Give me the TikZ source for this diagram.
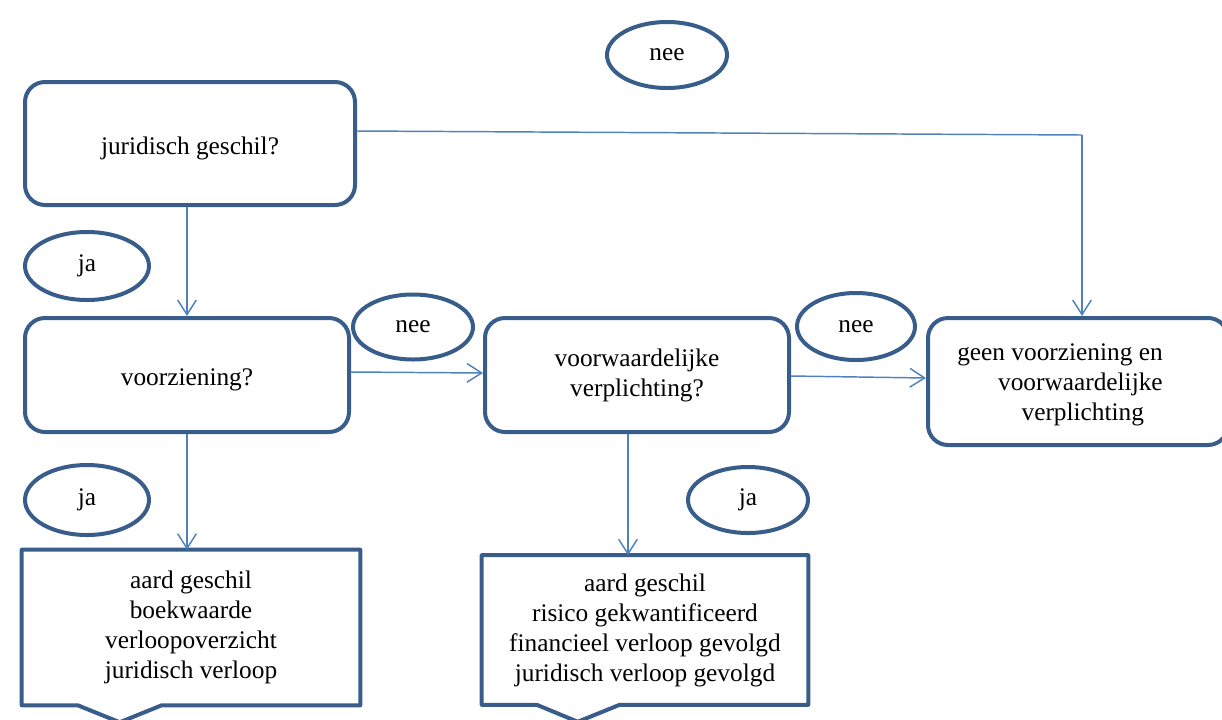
\documentclass[tikz,border=0pt]{standalone}
\usepackage{fontspec}
\setmainfont{Liberation Serif}
\usetikzlibrary{shapes.geometric,arrows.meta,calc}
\definecolor{boxblue}{HTML}{385D8A}
\definecolor{linkblue}{HTML}{4F81BD}
\tikzset{
  box/.style={draw=boxblue,line width=3pt,rounded corners=15pt,align=center,inner sep=0pt},
  callbox/.style={inner sep=0pt,align=center},
  callline/.style={draw=boxblue,line width=3pt,line join=round},
  oval/.style={draw=boxblue,line width=3pt,ellipse,inner sep=0pt},
  link/.style={draw=linkblue,line width=1.1pt,-{Straight Barb[length=11pt,width=14pt,line width=1.1pt]}},
  plain/.style={draw=linkblue,line width=1.1pt}
}
\begin{document}
\begin{tikzpicture}[x=0.75pt,y=-0.75pt,font=\fontsize{19}{22.5}\selectfont]
\useasboundingbox (0,0) rectangle (1222,719);
\clip (0,0) rectangle (1222,719);
% boxes
\node[box,minimum width=247.5pt,minimum height=92.25pt] (q1) at (190,143.5) {\raisebox{-4pt}[\height][\depth]{juridisch geschil?}};
\node[box,minimum width=243pt,minimum height=85.5pt] (q2) at (187,375) {\raisebox{-4pt}[\height][\depth]{voorziening?}};
\node[box,minimum width=228pt,minimum height=85.5pt] (q3) at (637,375) {voorwaardelijke\\verplichting?};
\node[box,minimum width=225pt,minimum height=95.25pt] (r4) at (1078,381.5) {};
\node[align=right,inner sep=0pt] (t4) at (1060,385) {geen voorziening en\\voorwaardelijke\\verplichting\hspace*{14pt}};
% ovals
\node[oval,minimum width=90pt,minimum height=49.5pt] (nee1) at (667,55) {nee};
\node[oval,minimum width=93pt,minimum height=51pt] (ja1) at (87,266) {ja};
\node[oval,minimum width=90pt,minimum height=48.75pt] (nee2) at (413,327) {nee};
\node[oval,minimum width=88.5pt,minimum height=50.25pt] (nee3) at (856,326.5) {nee};
\node[oval,minimum width=93pt,minimum height=52.5pt] (ja2) at (87,500) {ja};
\node[oval,minimum width=90pt,minimum height=49.5pt] (ja3) at (748,500) {ja};
% callouts
\node[callbox,minimum width=253.5pt,minimum height=116.25pt] (c1) at (191,627.5) {aard geschil\\boekwaarde\\verloopoverzicht\\juridisch verloop};
\node[callbox,minimum width=244.5pt,minimum height=111.75pt] (c2) at (645,630) {aard geschil\\risico gekwantificeerd\\financieel verloop gevolgd\\juridisch verloop gevolgd};
\draw[callline] (c1.north west) -- (c1.north east) -- (c1.south east) -- ($(c1.south west)+(140,0)$) -- ($(c1.south west)+(98,17)$) -- ($(c1.south west)+(56,0)$) -- (c1.south west) -- cycle;
\draw[callline] (c2.north west) -- (c2.north east) -- (c2.south east) -- ($(c2.south west)+(138,0)$) -- ($(c2.south west)+(96,17)$) -- ($(c2.south west)+(55,0)$) -- (c2.south west) -- cycle;
% connectors
\coordinate (k1) at (1082,135);
\draw[link] (q1.south -| 187,0) -- (q2.north -| 187,0);
\draw[plain] (q1.east |- 0,131) -- (k1);
\draw[link] (k1) -- (r4.north -| k1);
\draw[link] (q2.east |- 0,372) -- (q3.west |- 0,373);
\draw[link] (q3.east |- 0,376) -- (r4.west |- 0,378);
\draw[link] (q2.south -| 187,0) -- (c1.north -| 187,0);
\draw[link] (q3.south -| 628,0) -- (c2.north -| 628,0);
\end{tikzpicture}
\end{document}
